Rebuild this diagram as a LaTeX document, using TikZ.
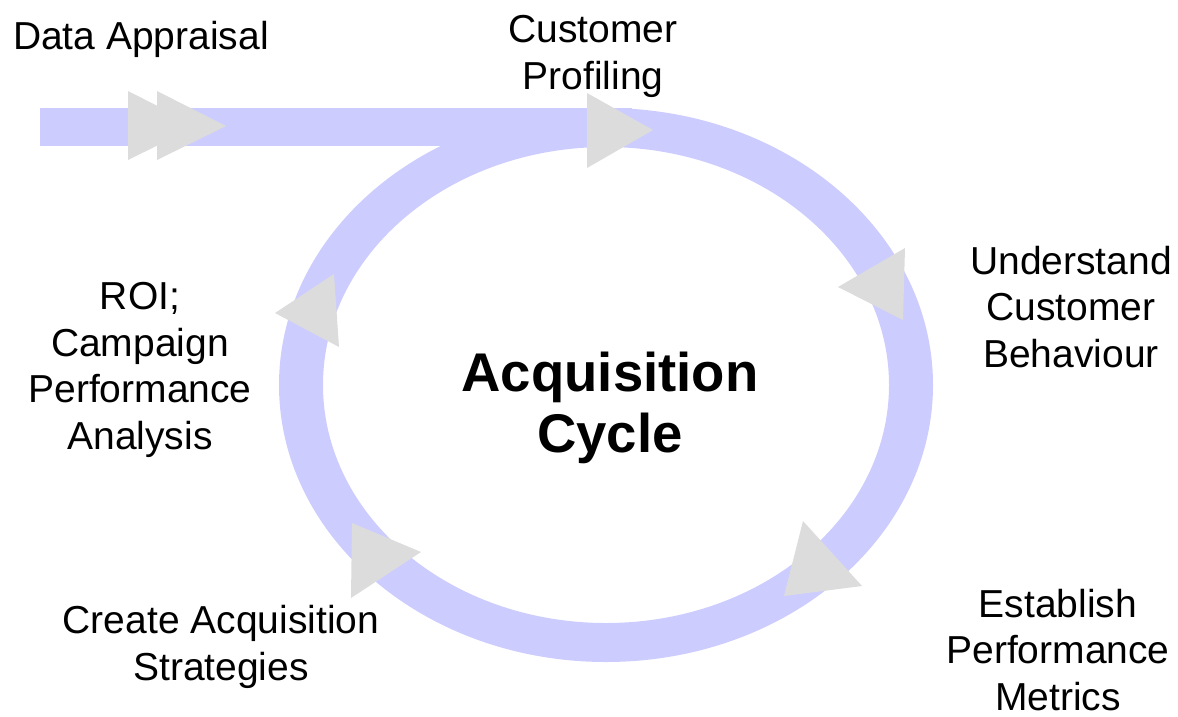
\documentclass[tikz,border=0pt]{standalone}
\usepackage{fontspec}
\setmainfont{Liberation Sans}
\usetikzlibrary{shapes}

\definecolor{bandblue}{HTML}{CCCCFF}
\definecolor{tipgray}{HTML}{DCDCDC}

\begin{document}
\begin{tikzpicture}[x=1pt,y=-1pt,band/.style={fill=bandblue,draw=none},tip/.style={fill=tipgray,draw=none},
						label/.style={anchor=base,align=center,inner sep=0pt,font=\fontsize{39}{46.5}\selectfont},
						title/.style={anchor=base,align=center,inner sep=0pt,font=\bfseries\fontsize{54.5}{61}\selectfont}
						]
						\useasboundingbox (0,0) rectangle (1178,716);
						\fill[band] (40,108) rectangle (632,146);
						\fill[band,even odd rule] (606,385) ellipse [x radius=327pt, y radius=277pt] (606,385) ellipse [x radius=283pt, y radius=238pt];
						\fill[tip] (128,91) -- (128,160) -- (197,126) -- cycle;
						\fill[tip] (157,91) -- (157,160) -- (226,126) -- cycle;
						\fill[tip] (587,93) -- (587,168) -- (653,130) -- cycle;
						\fill[tip] (905,248) -- (903,320) -- (838,287) -- cycle;
						\fill[tip] (334,274) -- (339,347) -- (275,313) -- cycle;
						\fill[tip] (352,523) -- (351,598) -- (421,552) -- cycle;
						\fill[tip] (803,521) -- (784,596) -- (862,586) -- cycle;
						\node[label](appraisal) at (141,49){Data Appraisal};
						\node[label](profiling) at (593,89){Customer\\Profiling};
						\node[label](behaviour) at (1071,367){Understand\\Customer\\Behaviour};
						\node[label](roi) at (140,449){ROI;\\Campaign\\Performance\\Analysis};
						\node[label](strategies) at (221,680){Create Acquisition\\Strategies};
						\node[label](metrics) at (1058,710){Establish\\Performance\\Metrics};
						\node[title](cycle) at (610,452){Acquisition\\Cycle};
						\end{tikzpicture}
\end{document}
